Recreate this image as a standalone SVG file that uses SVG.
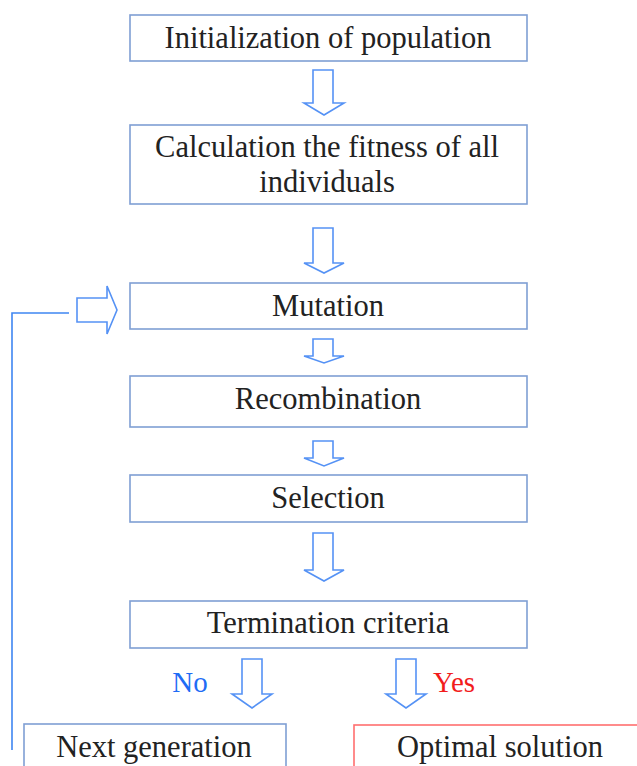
<svg xmlns="http://www.w3.org/2000/svg" width="637" height="766" viewBox="0 0 637 766">
<style>
.box{fill:#ffffff;stroke:#7f9fd4;stroke-width:1.6}
.red{fill:#ffffff;stroke:#ff6f6f;stroke-width:1.6}
.t{font-family:"Liberation Serif","Times New Roman",serif;font-size:30.5px;fill:#222222;text-anchor:middle}
.arr{fill:#ffffff;stroke:#5592f5;stroke-width:1.6;stroke-linejoin:miter}
.lbl{font-family:"Liberation Serif","Times New Roman",serif;font-size:29px}
</style>
<rect width="637" height="766" fill="#ffffff"/>
<g id="connectors">
<path class="arr" d="M313,70 H333 V103 H344 L324,115 L304,103 H313 Z"/>
<path class="arr" d="M313,228 H333 V263 H344 L324,273 L304,263 H313 Z"/>
<path class="arr" d="M313,339 H333 V356 H344 L324,363 L304,356 H313 Z"/>
<path class="arr" d="M313,441 H333 V458 H344 L324,466 L304,458 H313 Z"/>
<path class="arr" d="M313,533 H333 V570 H344 L324,581 L304,570 H313 Z"/>
<path class="arr" d="M242,659 H262 V694 H272 L252,708 L232,694 H242 Z"/>
<path class="arr" d="M396,659 H416 V694 H426 L406,708 L386,694 H396 Z"/>
<path class="arr" d="M77,298 H107 V286 L117,310 L107,334 V322 H77 Z"/>
<path d="M69,313 H12 V750" fill="none" stroke="#3f86f2" stroke-width="1.6"/>
<text class="lbl" x="190" y="692" text-anchor="middle" fill="#1f6cf5">No</text>
<text class="lbl" x="454" y="692" text-anchor="middle" fill="#f21c1c">Yes</text>
</g>
<g id="init">
<rect class="box" x="130" y="15" width="397" height="46"/>
<text class="t" x="328" y="48">Initialization of population</text>
</g>
<g id="fitness">
<rect class="box" x="130" y="125" width="397" height="79"/>
<text class="t" x="327" y="157">Calculation the fitness of all</text>
<text class="t" x="327" y="192">individuals</text>
</g>
<g id="mutation">
<rect class="box" x="130" y="283" width="397" height="46"/>
<text class="t" x="328" y="316">Mutation</text>
</g>
<g id="recombination">
<rect class="box" x="130" y="376" width="397" height="51"/>
<text class="t" x="328" y="409">Recombination</text>
</g>
<g id="selection">
<rect class="box" x="130" y="475" width="397" height="47"/>
<text class="t" x="328" y="508">Selection</text>
</g>
<g id="termination">
<rect class="box" x="130" y="601" width="397" height="47"/>
<text class="t" x="328" y="633">Termination criteria</text>
</g>
<g id="next">
<rect class="box" x="24" y="724" width="262" height="60"/>
<text class="t" x="154" y="757">Next generation</text>
</g>
<g id="optimal">
<rect class="red" x="354" y="725" width="300" height="60"/>
<text class="t" x="500" y="757">Optimal solution</text>
</g>
</svg>
